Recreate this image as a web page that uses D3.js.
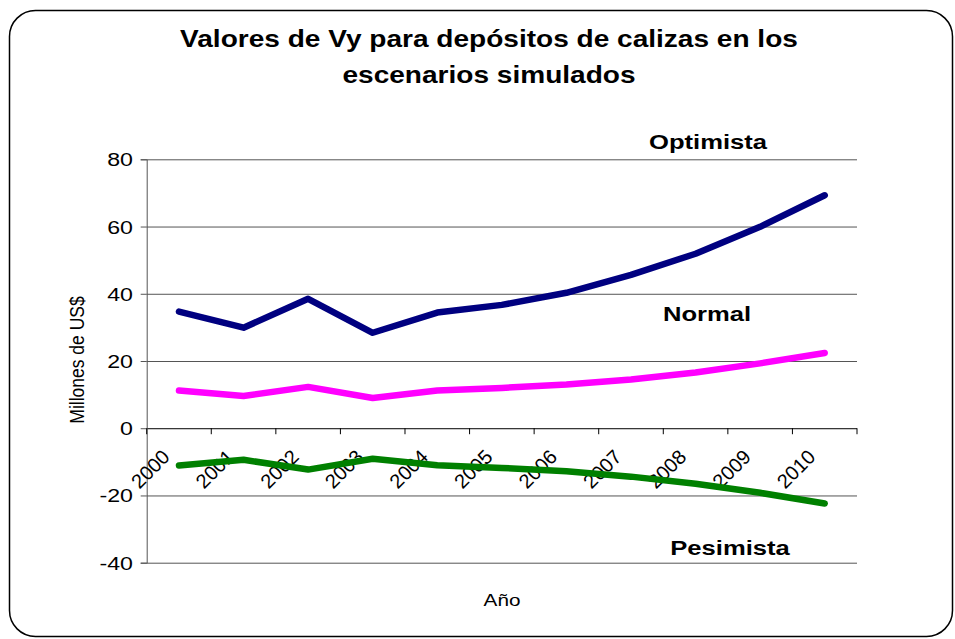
<!DOCTYPE html>
<html><head><meta charset="utf-8">
<script src="https://cdn.jsdelivr.net/npm/d3@7"></script>
<style>body{margin:0;background:#fff}svg{display:block;font-family:"Liberation Sans",Arial,sans-serif}</style>
</head><body>
<svg id="c" width="955" height="639"></svg>
<script>
const years = ["2000","2001","2002","2003","2004","2005","2006","2007","2008","2009","2010"];
const optimista = [34.7, 29.9, 38.5, 28.4, 34.4, 36.7, 40.3, 45.6, 51.9, 59.9, 69.3];
const normal = [11.2, 9.6, 12.3, 9.0, 11.2, 12.0, 13.0, 14.5, 16.6, 19.3, 22.4];
const pesimista = [-11.1, -9.4, -12.3, -9.1, -11.0, -11.8, -12.8, -14.4, -16.5, -19.2, -22.4];
const yTicks = [-40, -20, 0, 20, 40, 60, 80];

const SX = 1.22; // horizontal stretch of the reference's text
const FONT = "'Liberation Sans', Arial, sans-serif";
const svg = d3.select("#c");
svg.append("rect").attr("x",9.5).attr("y",10.5).attr("width",943).attr("height",626)
  .attr("rx",26).attr("ry",26).attr("fill","#fff").attr("stroke","#000").attr("stroke-width",1.5);

const L = 146.7, R = 857, T = 159.3, B = 562.7;
const x = d3.scaleBand().domain(years).range([L, R]);
const y = d3.scaleLinear().domain([-40, 80]).range([B, T]);
const cx = d => x(d) + x.bandwidth()/2;

function txt(g, tx, ty, s, opts) {
  opts = opts || {};
  const tr = opts.rot
    ? `translate(${tx},${ty}) rotate(${opts.rot})`
    : `translate(${tx},${ty}) scale(${SX},1)`;
  return g.append("text")
    .attr("transform", tr)
    .attr("text-anchor", opts.anchor || "middle")
    .attr("font-size", opts.size || 19)
    .attr("font-weight", opts.bold ? "bold" : "normal")
    .attr("font-family", FONT)
    .attr("fill", "#000").text(s);
}

// gridlines
svg.append("g").selectAll("line").data(yTicks).join("line")
  .attr("x1", L).attr("x2", R).attr("y1", d => y(d)+0.5).attr("y2", d => y(d)+0.5)
  .attr("stroke", d => d === 0 ? "#000" : "#555").attr("stroke-width", 1);

// y axis
const ya = svg.append("g").attr("transform", `translate(${L},0)`)
  .call(d3.axisLeft(y).tickValues(yTicks).tickSize(6).tickFormat(() => ""));
ya.select(".domain").attr("stroke","#555");
ya.selectAll(".tick line").attr("stroke","#555");
yTicks.forEach(v => txt(svg, 133, y(v) + 7, String(v), {anchor: "end", size: 19}));

// x axis ticks at zero
const tickPos = years.map(d => x(d)).concat([R]);
svg.append("g").selectAll("line").data(tickPos).join("line")
  .attr("x1", d => d).attr("x2", d => d).attr("y1", y(0)).attr("y2", y(0)+6)
  .attr("stroke","#000");
years.forEach(d => txt(svg, cx(d) - 8, y(0) + 30, d, {anchor: "end", size: 20, rot: -45}));

// lines
const line = d3.line().x((d,i) => cx(years[i])).y(d => y(d));
[[optimista,"#000080"],[normal,"#FF00FF"],[pesimista,"#008000"]].forEach(([s,c]) => {
  svg.append("path").datum(s).attr("d", line).attr("fill","none")
    .attr("stroke", c).attr("stroke-width", 6.5).attr("stroke-linejoin","round").attr("stroke-linecap","round");
});

// titles
txt(svg, 489, 47, "Valores de Vy para depósitos de calizas en los", {size: 23, bold: true});
txt(svg, 489, 83, "escenarios simulados", {size: 23, bold: true});

txt(svg, 708, 148.5, "Optimista", {size: 21, bold: true});
txt(svg, 707, 321, "Normal", {size: 21, bold: true});
txt(svg, 730, 555, "Pesimista", {size: 21, bold: true});

svg.append("text").attr("transform","translate(84,360) scale(1.15,1) rotate(-90)").attr("text-anchor","middle")
  .attr("font-size",17.5).attr("font-family",FONT).text("Millones de US$");
txt(svg, 502, 606, "Año", {size: 17});
</script>
</body></html>
